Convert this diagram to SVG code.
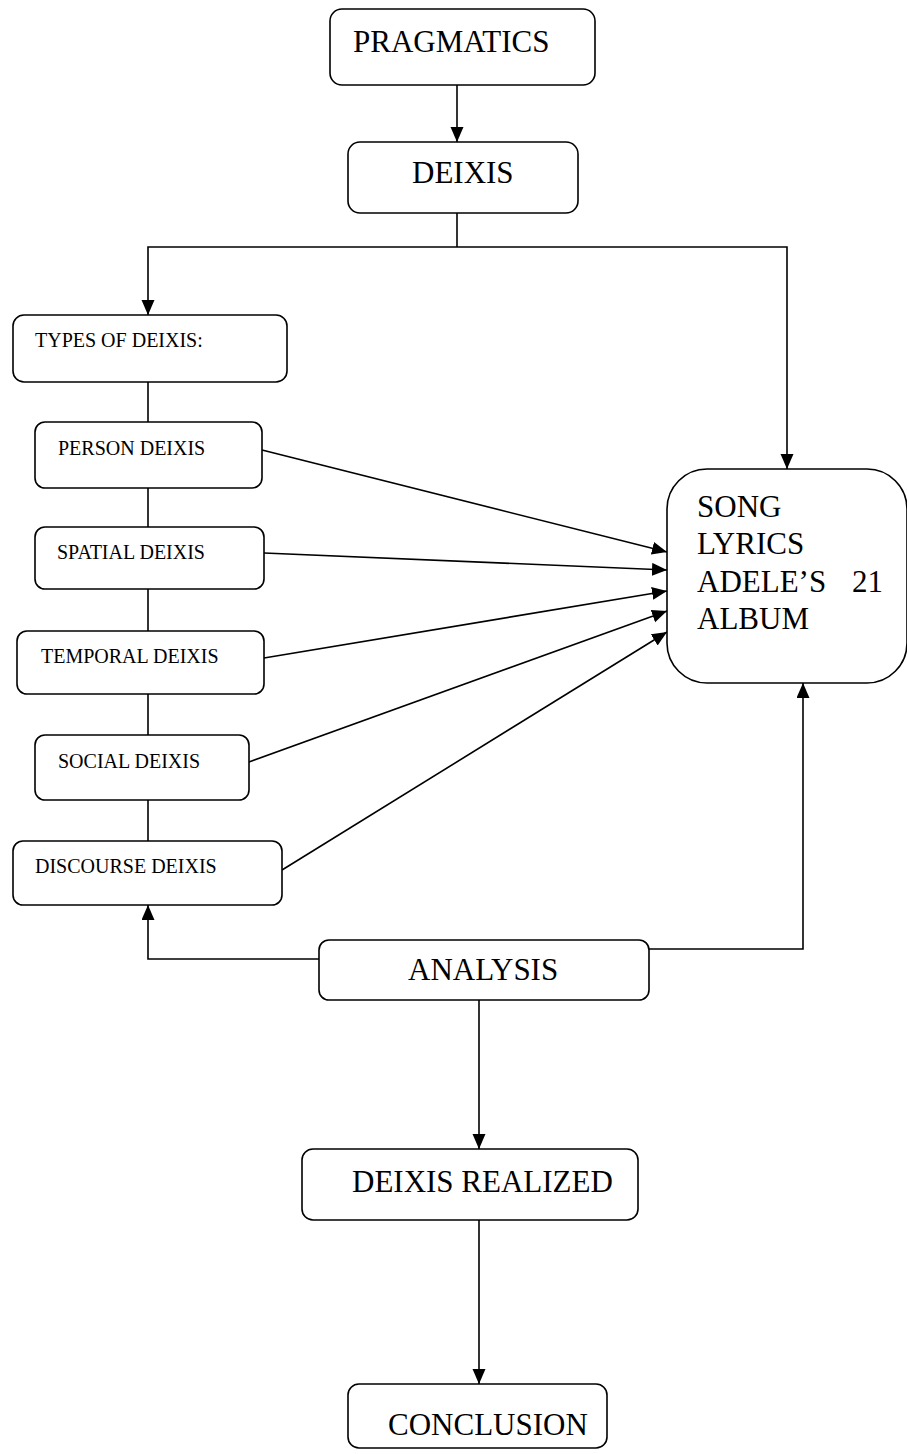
<svg xmlns="http://www.w3.org/2000/svg" width="907" height="1454" viewBox="0 0 907 1454">
<style>
.box{fill:#fff;stroke:#000;stroke-width:1.6}
.ln{fill:none;stroke:#000;stroke-width:1.6}
.big{font-family:"Liberation Serif","Times New Roman",serif;font-size:31px;fill:#000}
.sm{font-family:"Liberation Serif","Times New Roman",serif;font-size:20px;fill:#000}
</style>
<defs>
<marker id="ah" markerUnits="userSpaceOnUse" markerWidth="16" markerHeight="14" refX="15" refY="6.5" orient="auto">
<path d="M0,0 L15,6.5 L0,13 z" fill="#000"/>
</marker>
</defs>
<rect width="907" height="1454" fill="#fff"/>
<g id="connectors">
<line class="ln" x1="457" y1="85" x2="457" y2="142" marker-end="url(#ah)"/>
<line class="ln" x1="457" y1="213" x2="457" y2="247"/>
<path class="ln" d="M457,247 H148 V315" marker-end="url(#ah)"/>
<path class="ln" d="M457,247 H787 V469" marker-end="url(#ah)"/>
<line class="ln" x1="148" y1="382" x2="148" y2="422"/>
<line class="ln" x1="148" y1="488" x2="148" y2="527"/>
<line class="ln" x1="148" y1="589" x2="148" y2="631"/>
<line class="ln" x1="148" y1="694" x2="148" y2="735"/>
<line class="ln" x1="148" y1="800" x2="148" y2="841"/>
<line class="ln" x1="262" y1="450" x2="667" y2="552" marker-end="url(#ah)"/>
<line class="ln" x1="264" y1="553" x2="667" y2="570" marker-end="url(#ah)"/>
<line class="ln" x1="264" y1="658" x2="667" y2="591" marker-end="url(#ah)"/>
<line class="ln" x1="249" y1="762" x2="667" y2="611" marker-end="url(#ah)"/>
<line class="ln" x1="282" y1="870" x2="667" y2="632" marker-end="url(#ah)"/>
<path class="ln" d="M319,959 H148 V905" marker-end="url(#ah)"/>
<path class="ln" d="M649,949 H803 V683" marker-end="url(#ah)"/>
<line class="ln" x1="479" y1="1000" x2="479" y2="1149" marker-end="url(#ah)"/>
<line class="ln" x1="479" y1="1220" x2="479" y2="1384" marker-end="url(#ah)"/>
</g>
<g id="pragmatics">
<rect class="box" x="330" y="9" width="265" height="76" rx="12"/>
<text class="big" x="353" y="52">PRAGMATICS</text>
</g>
<g id="deixis">
<rect class="box" x="348" y="142" width="230" height="71" rx="12"/>
<text class="big" x="412" y="183">DEIXIS</text>
</g>
<g id="types">
<rect class="box" x="13" y="315" width="274" height="67" rx="11"/>
<text class="sm" x="35" y="347">TYPES OF  DEIXIS:</text>
</g>
<g id="person">
<rect class="box" x="35" y="422" width="227" height="66" rx="10"/>
<text class="sm" x="58" y="455">PERSON DEIXIS</text>
</g>
<g id="spatial">
<rect class="box" x="35" y="527" width="229" height="62" rx="10"/>
<text class="sm" x="57" y="559">SPATIAL DEIXIS</text>
</g>
<g id="temporal">
<rect class="box" x="17" y="631" width="247" height="63" rx="10"/>
<text class="sm" x="41" y="663">TEMPORAL DEIXIS</text>
</g>
<g id="social">
<rect class="box" x="35" y="735" width="214" height="65" rx="10"/>
<text class="sm" x="58" y="768">SOCIAL DEIXIS</text>
</g>
<g id="discourse">
<rect class="box" x="13" y="841" width="269" height="64" rx="10"/>
<text class="sm" x="35" y="873">DISCOURSE DEIXIS</text>
</g>
<g id="song">
<rect class="box" x="667" y="469" width="240" height="214" rx="40"/>
<text class="big" x="697" y="517">SONG</text>
<text class="big" x="697" y="554">LYRICS</text>
<text class="big" x="697" y="592">ADELE’S <tspan x="852">21</tspan></text>
<text class="big" x="697" y="629">ALBUM</text>
</g>
<g id="analysis">
<rect class="box" x="319" y="940" width="330" height="60" rx="10"/>
<text class="big" x="408" y="980">ANALYSIS</text>
</g>
<g id="realized">
<rect class="box" x="302" y="1149" width="336" height="71" rx="11"/>
<text class="big" x="352" y="1192">DEIXIS REALIZED</text>
</g>
<g id="conclusion">
<rect class="box" x="348" y="1384" width="259" height="64" rx="11"/>
<text class="big" x="388" y="1435">CONCLUSION</text>
</g>
</svg>
